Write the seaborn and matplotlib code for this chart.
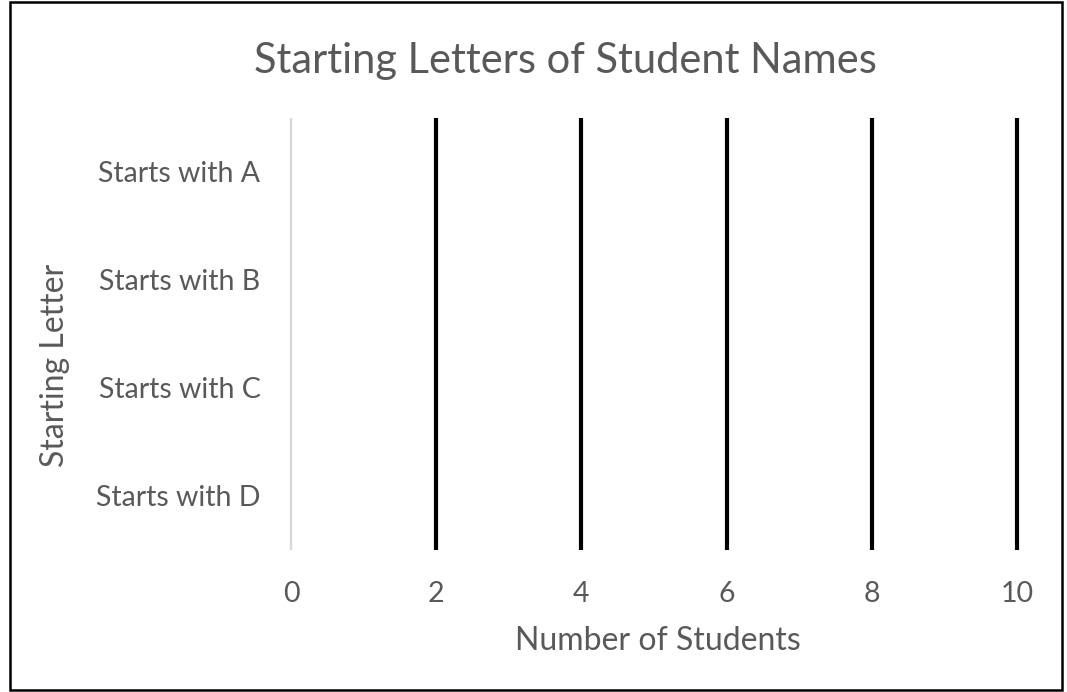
import matplotlib
matplotlib.use("Agg")
import matplotlib.pyplot as plt
import seaborn as sns
from matplotlib.patches import Rectangle

letters = ["Starts with A", "Starts with B", "Starts with C", "Starts with D"]
students = [0, 0, 0, 0]
x_ticks = [0, 2, 4, 6, 8, 10]

sns.set_style("white")
plt.rcParams["font.family"] = ["Lato", "DejaVu Sans"]

fig = plt.figure(figsize=(10.67, 6.92), dpi=100)
ax = fig.add_axes([0.2727, 0.2052, 0.6804, 0.6243])

sns.barplot(x=students, y=letters, orient="h", color="#4472c4",
            edgecolor="none", ax=ax)

ax.set_xlim(0, 10)
ax.set_xticks(x_ticks)
ax.set_xticklabels([str(t) for t in x_ticks])
ax.grid(False)
for t in x_ticks[1:]:
    ax.axvline(t, color="black", lw=3.0, zorder=0, clip_on=False,
               solid_capstyle="butt")
ax.axvline(0, color="#d9d9d9", lw=1.7, zorder=3, clip_on=False,
           solid_capstyle="butt")

for s in ax.spines.values():
    s.set_visible(False)
ax.tick_params(axis="both", length=0, labelsize=20.5, labelcolor="#595959")
ax.tick_params(axis="y", pad=22)
ax.tick_params(axis="x", pad=22)

ax.set_xlabel("")
ax.set_ylabel("")
fig.text(0.6167, 1 - 650 / 692, "Number of Students", ha="center", va="baseline",
         fontsize=23, color="#595959")
fig.text(55 / 1067, 1 - 365 / 692, "Starting Letter", ha="center", va="center",
         rotation=90, fontsize=23, color="#595959")
fig.text(0.5295, 1 - 73 / 692, "Starting Letters of Student Names", ha="center",
         va="baseline", fontsize=30, color="#595959")

fig.patches.append(Rectangle((0.0094, 0.003), 0.986, 0.994, transform=fig.transFigure,
                             fill=False, edgecolor="black", lw=1.8))

fig.savefig("out.png", dpi=100, facecolor="white")
